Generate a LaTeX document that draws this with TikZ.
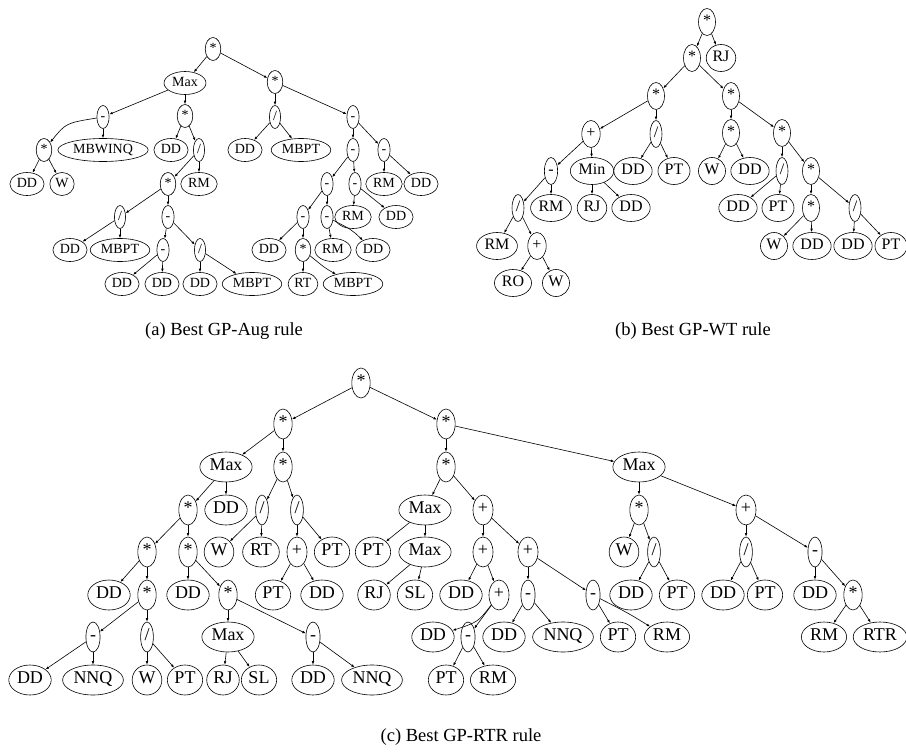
\documentclass[tikz,border=0pt]{standalone}
\usepackage{fontspec}
\setmainfont{Liberation Serif}
\usetikzlibrary{shapes.geometric,arrows.meta}
\tikzset{
  nd/.style={ellipse, draw, line width=0.6pt, inner xsep=2pt, inner ysep=1pt, text height=0.66em, text depth=0pt},
  ta/.style={nd, font=\fontsize{14}{14}\selectfont, minimum height=23pt},
  tb/.style={nd, font=\fontsize{16}{16}\selectfont, minimum height=27pt},
  tc/.style={nd, font=\fontsize{18}{18}\selectfont, minimum height=30pt},
  ed/.style={-{Latex[length=3.5pt,width=2.6pt]}, line width=0.6pt},
  captxt/.style={font=\fontsize{18.5}{20}\selectfont}
}
\begin{document}
\begin{tikzpicture}[x=1pt,y=-1pt]
\useasboundingbox (0,0) rectangle (906,752);
% ---------- (a) ----------
\node[ta] (a0) at (213,49) {*};
\node[ta] (a1) at (185,83) {Max};
\node[ta] (a2) at (275,82) {*};
\node[ta] (a3) at (103,117) {-};
\node[ta] (a4) at (185,116) {*};
\node[ta] (a5) at (275,117) {/};
\node[ta] (a6) at (353,117) {-};
\node[ta] (a7) at (44,150) {*};
\node[ta] (a8) at (103,150) {MBWINQ};
\node[ta] (a9) at (171,150) {DD};
\node[ta] (a10) at (199,150) {/};
\node[ta] (a11) at (245,150) {DD};
\node[ta] (a12) at (301,150) {MBPT};
\node[ta] (a13) at (353,150) {-};
\node[ta] (a14) at (384,150) {-};
\node[ta] (a15) at (27,184) {DD};
\node[ta] (a16) at (62,184) {W};
\node[ta] (a17) at (168,184) {*};
\node[ta] (a18) at (199,184) {RM};
\node[ta] (a19) at (327,184) {-};
\node[ta] (a20) at (355,184) {-};
\node[ta] (a21) at (384,184) {RM};
\node[ta] (a22) at (421,184) {DD};
\node[ta] (a23) at (120,217) {/};
\node[ta] (a24) at (168,217) {-};
\node[ta] (a25) at (303,217) {-};
\node[ta] (a26) at (327,217) {-};
\node[ta] (a27) at (353,217) {RM};
\node[ta] (a28) at (396,217) {DD};
\node[ta] (a29) at (70,250) {DD};
\node[ta] (a30) at (120,250) {MBPT};
\node[ta] (a31) at (163,250) {-};
\node[ta] (a32) at (200,250) {/};
\node[ta] (a33) at (269,250) {DD};
\node[ta] (a34) at (303,250) {*};
\node[ta] (a35) at (333,250) {RM};
\node[ta] (a36) at (373,250) {DD};
\node[ta] (a37) at (122,284) {DD};
\node[ta] (a38) at (162,284) {DD};
\node[ta] (a39) at (200,284) {DD};
\node[ta] (a40) at (252,284) {MBPT};
\node[ta] (a41) at (303,284) {RT};
\node[ta] (a42) at (353,284) {MBPT};
\foreach \p/\c in {a0/a1,a0/a2,a1/a3,a1/a4,a3/a8,a7/a15,a7/a16,a4/a9,a4/a10,a10/a17,a10/a18,a17/a23,a17/a24,a23/a29,a23/a30,a24/a31,a24/a32,a31/a37,a31/a38,a32/a39,a32/a40,a2/a5,a2/a6,a5/a11,a5/a12,a6/a13,a6/a14,a13/a19,a13/a20,a14/a21,a14/a22,a19/a25,a19/a26,a20/a27,a20/a28,a25/a33,a25/a34,a26/a35,a34/a41}
  \draw[ed] (\p) -- (\c);
\draw[ed] (a3) .. controls (66,123) .. (a7);
\draw[ed] (a26) .. controls (352,230) .. (a36);
\draw[ed] (a34) .. controls (325,268) .. (a42);
\node[captxt] (capa) at (224,331) {(a) Best GP-Aug rule};
% ---------- (b) ----------
\node[tb] (b0) at (707,22) {*};
\node[tb] (b1) at (692,58) {*};
\node[tb] (b2) at (721,58) {RJ};
\node[tb] (b3) at (656,96) {*};
\node[tb] (b4) at (731,96) {*};
\node[tb] (b5) at (591,134) {+};
\node[tb] (b6) at (656,134) {/};
\node[tb] (b7) at (731,133) {*};
\node[tb] (b8) at (782,133) {*};
\node[tb] (b9) at (551,171) {-};
\node[tb] (b10) at (592,171) {Min};
\node[tb] (b11) at (633,171) {DD};
\node[tb] (b12) at (674,171) {PT};
\node[tb] (b13) at (712,171) {W};
\node[tb] (b14) at (750,171) {DD};
\node[tb] (b15) at (782,171) {/};
\node[tb] (b16) at (811,171) {*};
\node[tb] (b17) at (518,208) {/};
\node[tb] (b18) at (551,208) {RM};
\node[tb] (b19) at (592,208) {RJ};
\node[tb] (b20) at (631,208) {DD};
\node[tb] (b21) at (738,208) {DD};
\node[tb] (b22) at (778,208) {PT};
\node[tb] (b23) at (811,208) {*};
\node[tb] (b24) at (855,208) {/};
\node[tb] (b25) at (497,246) {RM};
\node[tb] (b26) at (537,246) {+};
\node[tb] (b27) at (774,246) {W};
\node[tb] (b28) at (812,246) {DD};
\node[tb] (b29) at (853,246) {DD};
\node[tb] (b30) at (891,246) {PT};
\node[tb] (b31) at (513,283) {RO};
\node[tb] (b32) at (556,283) {W};
\foreach \p/\c in {b0/b1,b0/b2,b1/b3,b1/b4,b3/b5,b3/b6,b5/b9,b5/b10,b6/b11,b6/b12,b9/b17,b9/b18,b10/b19,b10/b20,b17/b25,b17/b26,b26/b31,b26/b32,b4/b7,b4/b8,b7/b13,b7/b14,b8/b15,b8/b16,b15/b21,b15/b22,b16/b23,b16/b24,b23/b27,b23/b28,b24/b29,b24/b30}
  \draw[ed] (\p) -- (\c);
\node[captxt] (capb) at (693,331) {(b) Best GP-WT rule};
% ---------- (c) ----------
\node[tc] (c0) at (361,383) {*};
\node[tc] (c1) at (283,424) {*};
\node[tc] (c2) at (446,424) {*};
\node[tc] (c3) at (226,467) {Max};
\node[tc] (c4) at (283,467) {*};
\node[tc] (c5) at (446,467) {*};
\node[tc] (c6) at (639,467) {Max};
\node[tc] (c7) at (188,510) {*};
\node[tc] (c8) at (226,510) {DD};
\node[tc] (c9) at (262,510) {/};
\node[tc] (c10) at (297,510) {/};
\node[tc] (c11) at (425,510) {Max};
\node[tc] (c12) at (483,510) {+};
\node[tc] (c13) at (639,510) {*};
\node[tc] (c14) at (746,510) {+};
\node[tc] (c15) at (147,552) {*};
\node[tc] (c16) at (188,552) {*};
\node[tc] (c17) at (219,552) {W};
\node[tc] (c18) at (261,552) {RT};
\node[tc] (c19) at (297,552) {+};
\node[tc] (c20) at (332,552) {PT};
\node[tc] (c21) at (373,552) {PT};
\node[tc] (c22) at (425,552) {Max};
\node[tc] (c23) at (483,552) {+};
\node[tc] (c24) at (528,552) {+};
\node[tc] (c25) at (624,552) {W};
\node[tc] (c26) at (654,552) {/};
\node[tc] (c27) at (746,552) {/};
\node[tc] (c28) at (815,552) {-};
\node[tc] (c29) at (109,595) {DD};
\node[tc] (c30) at (147,595) {*};
\node[tc] (c31) at (188,595) {DD};
\node[tc] (c32) at (228,595) {*};
\node[tc] (c33) at (273,595) {PT};
\node[tc] (c34) at (322,595) {DD};
\node[tc] (c35) at (374,595) {RJ};
\node[tc] (c36) at (415,595) {SL};
\node[tc] (c37) at (461,595) {DD};
\node[tc] (c38) at (499,595) {+};
\node[tc] (c39) at (528,595) {-};
\node[tc] (c40) at (593,595) {-};
\node[tc] (c41) at (631,595) {DD};
\node[tc] (c42) at (677,595) {PT};
\node[tc] (c43) at (723,595) {DD};
\node[tc] (c44) at (765,595) {PT};
\node[tc] (c45) at (815,595) {DD};
\node[tc] (c46) at (853,595) {*};
\node[tc] (c47) at (93,637) {-};
\node[tc] (c48) at (147,637) {/};
\node[tc] (c49) at (228,637) {Max};
\node[tc] (c50) at (313,637) {-};
\node[tc] (c51) at (433,637) {DD};
\node[tc] (c52) at (468,637) {-};
\node[tc] (c53) at (504,637) {DD};
\node[tc] (c54) at (563,637) {NNQ};
\node[tc] (c55) at (618,637) {PT};
\node[tc] (c56) at (667,637) {RM};
\node[tc] (c57) at (824,637) {RM};
\node[tc] (c58) at (880,637) {RTR};
\node[tc] (c59) at (30,680) {DD};
\node[tc] (c60) at (93,680) {NNQ};
\node[tc] (c61) at (147,680) {W};
\node[tc] (c62) at (185,680) {PT};
\node[tc] (c63) at (223,680) {RJ};
\node[tc] (c64) at (259,680) {SL};
\node[tc] (c65) at (313,680) {DD};
\node[tc] (c66) at (372,680) {NNQ};
\node[tc] (c67) at (446,680) {PT};
\node[tc] (c68) at (493,680) {RM};
\foreach \p/\c in {c0/c1,c0/c2,c1/c3,c1/c4,c3/c7,c3/c8,c4/c9,c4/c10,c7/c15,c7/c16,c15/c29,c15/c30,c30/c47,c30/c48,c47/c59,c47/c60,c48/c61,c48/c62,c16/c31,c16/c32,c32/c49,c32/c50,c49/c63,c49/c64,c50/c65,c50/c66,c9/c17,c9/c18,c10/c19,c10/c20,c19/c33,c19/c34,c2/c5,c2/c6,c5/c11,c5/c12,c11/c21,c11/c22,c22/c35,c22/c36,c12/c23,c12/c24,c23/c37,c23/c38,c38/c52,c52/c67,c52/c68,c24/c39,c24/c40,c39/c53,c39/c54,c40/c55,c6/c13,c6/c14,c13/c25,c13/c26,c26/c41,c26/c42,c14/c27,c14/c28,c27/c43,c27/c44,c28/c45,c28/c46,c46/c57,c46/c58}
  \draw[ed] (\p) -- (\c);
\draw[ed] (c38) .. controls (478,622) .. (c51);
\draw[ed] (c40) .. controls (628,613) .. (c56);
\node[captxt] (capc) at (461,737) {(c) Best GP-RTR rule};
\end{tikzpicture}
\end{document}
